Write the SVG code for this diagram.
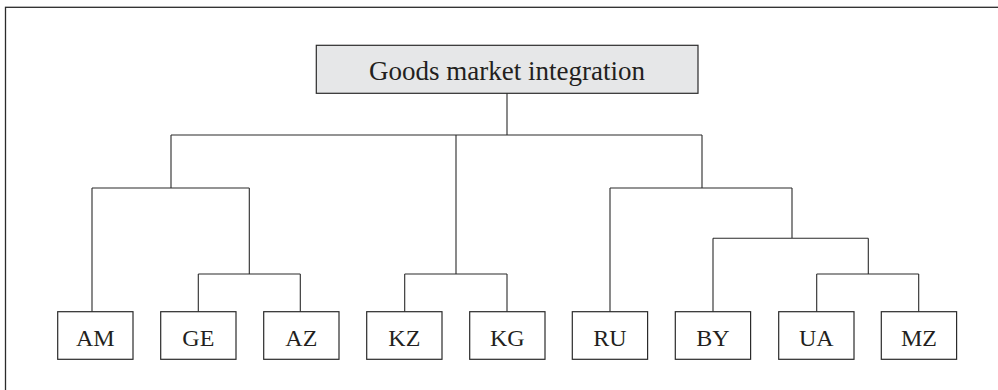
<svg xmlns="http://www.w3.org/2000/svg" width="998" height="390" viewBox="0 0 998 390">
<style>
.frame{fill:none;stroke:#2b2b2b;stroke-width:1.3}
.box{fill:#ffffff;stroke:#2b2b2b;stroke-width:1.2}
.root{fill:#e6e7e8;stroke:#2b2b2b;stroke-width:1.2}
.lbl{font-family:"Liberation Serif","Times New Roman",serif;font-size:24px;fill:#231f20;text-anchor:middle}
.title{font-family:"Liberation Serif","Times New Roman",serif;font-size:27px;fill:#231f20;text-anchor:middle}
.conn{fill:none;stroke:#2b2b2b;stroke-width:1.1}
</style>
<rect class="frame" x="5.5" y="7.3" width="1000" height="400"/>
<g id="connectors">
<path class="conn" d="M507,93 V135 M171,135 H702 M171,135 V188 M456,135 V274 M702,135 V188"/>
<path class="conn" d="M92,188 H249.3 M92,188 V312 M249.3,188 V274 M198.3,274 H300.3 M198.3,274 V312 M300.3,274 V312"/>
<path class="conn" d="M404.7,274 H507 M404.7,274 V312 M507,274 V312"/>
<path class="conn" d="M610,188 H792 M610,188 V312 M792,188 V238.3 M713,238.3 H868.3 M713,238.3 V312 M868.3,238.3 V274 M816.7,274 H918.7 M816.7,274 V312 M918.7,274 V312"/>
</g>
<g id="root"><rect class="root" x="316.3" y="45.3" width="381.7" height="48"/><text class="title" x="507" y="80">Goods market integration</text></g>
<g id="AM"><rect class="box" x="57.7" y="311.7" width="75.3" height="47.6"/><text class="lbl" x="95.3" y="345.5">AM</text></g>
<g id="GE"><rect class="box" x="160.7" y="311.7" width="75.3" height="47.6"/><text class="lbl" x="198.3" y="345.5">GE</text></g>
<g id="AZ"><rect class="box" x="263.7" y="311.7" width="75.3" height="47.6"/><text class="lbl" x="301.3" y="345.5">AZ</text></g>
<g id="KZ"><rect class="box" x="366.7" y="311.7" width="75.3" height="47.6"/><text class="lbl" x="404.3" y="345.5">KZ</text></g>
<g id="KG"><rect class="box" x="469.7" y="311.7" width="75.3" height="47.6"/><text class="lbl" x="507.3" y="345.5">KG</text></g>
<g id="RU"><rect class="box" x="572.3" y="311.7" width="75.3" height="47.6"/><text class="lbl" x="610" y="345.5">RU</text></g>
<g id="BY"><rect class="box" x="675.3" y="311.7" width="75.3" height="47.6"/><text class="lbl" x="713" y="345.5">BY</text></g>
<g id="UA"><rect class="box" x="778.7" y="311.7" width="75.3" height="47.6"/><text class="lbl" x="816.3" y="345.5">UA</text></g>
<g id="MZ"><rect class="box" x="881.3" y="311.7" width="75.3" height="47.6"/><text class="lbl" x="919" y="345.5">MZ</text></g>
</svg>
